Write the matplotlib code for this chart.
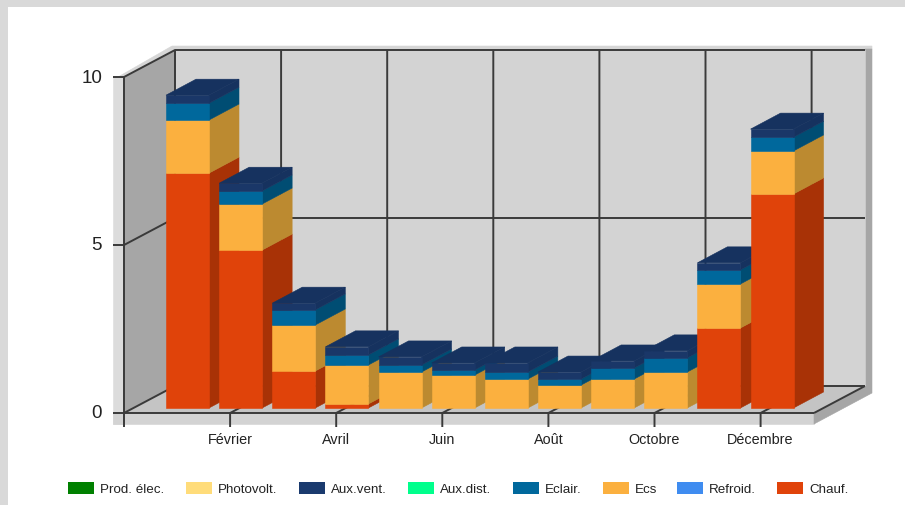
import matplotlib
matplotlib.use('Agg')
import matplotlib.pyplot as plt
from matplotlib.patches import Polygon, Rectangle

plt.rcParams['font.family'] = ['Liberation Sans', 'DejaVu Sans']

# consommations mensuelles empilées
tick_labels = ['Février', 'Avril', 'Juin', 'Août', 'Octobre', 'Décembre']
y_ticks = [0, 5, 10]
chauf = [6.99, 4.70, 1.10, 0.12, 0, 0, 0, 0, 0, 0, 2.38, 6.37]
ecs = [1.58, 1.37, 1.37, 1.16, 1.07, 0.98, 0.86, 0.68, 0.86, 1.07, 1.31, 1.28]
eclair = [0.50, 0.39, 0.45, 0.30, 0.21, 0.15, 0.21, 0.18, 0.33, 0.42, 0.42, 0.41]
aux_vent = [0.24, 0.23, 0.20, 0.24, 0.24, 0.21, 0.27, 0.21, 0.21, 0.21, 0.21, 0.24]

legend_labels = ['Prod. élec.', 'Photovolt.', 'Aux.vent.', 'Aux.dist.', 'Eclair.', 'Ecs', 'Refroid.', 'Chauf.']
legend_colors = ['#008000', '#ffdc7a', '#1a3a6e', '#00ff8c', '#00689c', '#fbb03f', '#3f8cf0', '#e0430a']
legend_x = [68, 186, 299, 408, 513, 603, 677, 777]

# (valeurs, face avant, face latérale)
stacks = [
    (chauf, '#e0430a', '#a83206'),
    (ecs, '#fbb03f', '#bc8a30'),
    (eclair, '#00689c', '#004d73'),
    (aux_vent, '#1a3768', '#16325f'),
]
top_color = '#16325f'

# repère en pixels, pseudo-3D
LEFT, RIGHT = 124, 813
Y0, Y10 = 413, 77
DX, DY = 51, -27
BAR_W, BAR_DX, BAR_DY = 43, 30, -16
BAR_BASE, BAR_LEFT, BAR_STEP = 408, 166, 53.14
PX_PER_UNIT = (Y0 - Y10) / 10
GRID = '#3a3a3a'
TICK_STEP = 106.1


def y_val(v):
    return Y0 - v * PX_PER_UNIT


def poly(ax, pts, color, z=1):
    # bord de la même couleur pour éviter les liserés entre les faces
    ax.add_patch(Polygon(pts, closed=True, facecolor=color, edgecolor=color, lw=0.4, zorder=z))


def line(ax, xs, ys, lw=1.4, z=2):
    ax.plot(xs, ys, color=GRID, lw=lw, zorder=z, solid_capstyle='butt')


fig = plt.figure(figsize=(9.05, 5.06), dpi=100, facecolor='#d9d9d9')
ax = fig.add_axes([0, 0, 1, 1])
ax.set_xlim(0, 905)
ax.set_ylim(505, -1)
ax.axis('off')

# cadre clair autour de la zone blanche
ax.add_patch(Rectangle((8, 7), 897, 500, facecolor='white', edgecolor='none', zorder=0))

# bordures du graphique
poly(ax, [(118, 77), (172, 46), (872, 46), (872, 49), (175, 49), (124, 77)], '#d6d6d6')
poly(ax, [(113, 77), (124, 77), (124, 424), (113, 424)], '#dcdcdc')
poly(ax, [(113, 413), (RIGHT + 1, 413), (RIGHT + 1, 424), (113, 424)], '#d3d3d3')
poly(ax, [(814, 424), (814, 413), (865, Y0 + DY), (865, 49), (872, 49), (872, 393)], '#a6a6a6')

# parois
poly(ax, [(LEFT + DX, Y10 + DY), (RIGHT + DX + 1, Y10 + DY), (RIGHT + DX + 1, Y0 + DY), (LEFT + DX, Y0 + DY)], '#d3d3d3')
poly(ax, [(LEFT, Y10), (LEFT + DX, Y10 + DY), (LEFT + DX, Y0 + DY), (LEFT, Y0)], '#a6a6a6')
poly(ax, [(LEFT, Y0), (LEFT + DX, Y0 + DY), (RIGHT + DX + 1, Y0 + DY), (RIGHT + 1, Y0)], '#c4c4c4')

# grille horizontale et graduations y
for v in y_ticks:
    yy = y_val(v)
    line(ax, [LEFT - 11, LEFT, LEFT + DX, RIGHT + DX + 1], [yy, yy, yy + DY, yy + DY])
    ax.text(LEFT - 22, yy, str(v), ha='right', va='center', fontsize=13.5, color='#222222', zorder=5)
line(ax, [LEFT, LEFT], [Y10, Y0 + 14])
line(ax, [LEFT + DX, LEFT + DX], [Y10 + DY, Y0 + DY])
line(ax, [LEFT, RIGHT + 1], [Y0, Y0], z=2)

# grille verticale, graduations x
tick_pos = [LEFT + TICK_STEP * (i + 1) for i in range(len(tick_labels))]
for tx, label in zip(tick_pos, tick_labels):
    line(ax, [tx, tx, tx + DX, tx + DX], [Y0 + 14, Y0, Y0 + DY, Y10 + DY])
    ax.text(tx, 439, label, ha='center', va='center', fontsize=10.4, color='#222222', zorder=5)
line(ax, [RIGHT + 1, RIGHT + DX + 1], [Y0, Y0 + DY])

# barres empilées, de gauche à droite pour le recouvrement
for i in range(len(chauf)):
    x0 = BAR_LEFT + BAR_STEP * i
    x1 = x0 + BAR_W
    bottom = 0.0
    z = 10 + i
    for values, front, side in stacks:
        v = values[i]
        if v == 0:
            continue
        yb = BAR_BASE - bottom * PX_PER_UNIT
        yt = BAR_BASE - (bottom + v) * PX_PER_UNIT
        poly(ax, [(x1, yb), (x1 + BAR_DX, yb + BAR_DY), (x1 + BAR_DX, yt + BAR_DY), (x1, yt)], side, z)
        poly(ax, [(x0, yb), (x1, yb), (x1, yt), (x0, yt)], front, z)
        bottom += v
    yt = BAR_BASE - bottom * PX_PER_UNIT
    poly(ax, [(x0, yt), (x1, yt), (x1 + BAR_DX, yt + BAR_DY), (x0 + BAR_DX, yt + BAR_DY)], top_color, z)

# légende
for lx, label, color in zip(legend_x, legend_labels, legend_colors):
    ax.add_patch(Rectangle((lx, 482), 26, 12, facecolor=color, edgecolor='none', zorder=5))
    ax.text(lx + 32, 489, label, ha='left', va='center', fontsize=9.6, color='#222222', zorder=5)

fig.savefig('out.png', dpi=100, facecolor=fig.get_facecolor())
